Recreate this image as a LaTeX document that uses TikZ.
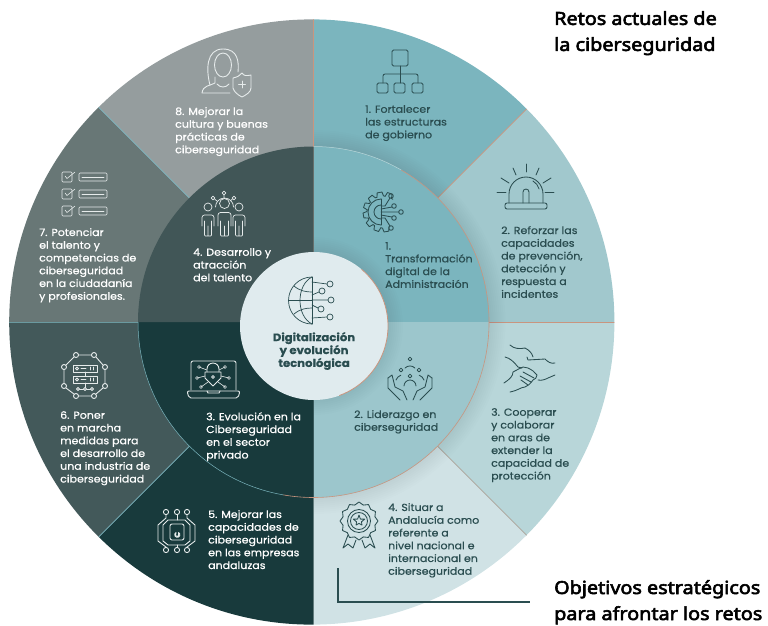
\documentclass[tikz,border=0pt]{standalone}
\usepackage{fontspec}
\setmainfont{Poppins}[FakeBold=0.6,FakeStretch=1.08]
\newfontfamily\headfont{Noto Sans}[FakeBold=3.2,FakeStretch=1.1]
\definecolor{secA}{HTML}{7BB5BE}
\definecolor{secB}{HTML}{A1C8CD}
\definecolor{secC}{HTML}{B8D6D9}
\definecolor{secD}{HTML}{D0E2E5}
\definecolor{secE}{HTML}{183A3C}
\definecolor{secF}{HTML}{43595A}
\definecolor{secG}{HTML}{687776}
\definecolor{secH}{HTML}{959D9E}
\definecolor{midA}{HTML}{7BB5BE}
\definecolor{midB}{HTML}{9CC6CC}
\definecolor{midC}{HTML}{183A3C}
\definecolor{midD}{HTML}{415657}
\definecolor{hubfill}{HTML}{E0EBEE}
\definecolor{copper}{HTML}{C9957F}
\definecolor{inkdark}{HTML}{2A4D50}
\definecolor{inklight}{HTML}{E6EBEB}
\tikzset{
  lbl/.style={anchor=north west,inner sep=0pt,align=left,yshift=-2pt,font=\fontsize{10.2}{12.75}\selectfont},
  lbld/.style={lbl,text=inkdark},
  lblw/.style={lbl,text=white},
  hub/.style={inner sep=0pt,align=center,text=inkdark,font=\fontsize{10.8}{12.9}\selectfont\bfseries},
  headtxt/.style={anchor=north west,inner sep=0pt,align=left,text=black,font=\headfont\fontsize{18}{26}\selectfont},
  icd/.style={draw=inkdark,line width=.85pt,line cap=round,line join=round},
  icw/.style={draw=inklight,line width=.9pt,line cap=round,line join=round},
}
\begin{document}
\begin{tikzpicture}[x=1pt,y=-1pt]
\useasboundingbox (0,0) rectangle (768,625);
\coordinate (ctr) at (313.5,322);
% outer ring
\begin{scope}
  \clip (311.8,322) circle (302.6);
  \foreach \a/\c in {-90/secA,-45/secB,0/secC,45/secD,90/secE,135/secF,180/secG,225/secH}
    \fill[\c] (ctr) -- +(\a:500) -- +(\a+45:500) -- cycle;
  \draw[copper,line width=.7pt] (ctr) -- +(-45:500);
  \draw[copper,line width=.7pt] (ctr) -- +(0:500);
  \draw[copper!60!secA,line width=.7pt] (ctr) -- +(45:500);
  \draw[copper,line width=.5pt] (ctr) -- +(-90:500);
  \draw[secA,line width=.7pt] (ctr) -- +(135:500);
  \draw[secA!70!secF,line width=.7pt] (ctr) -- +(180:500);
  \draw[secA,line width=.7pt] (ctr) -- +(225:500);
  % soft shadow of the middle disc
  \clip (314,100) rectangle (640,625);
  \foreach \r in {176,178,...,192}
    \fill[black,opacity=.008] (ctr) circle (\r);
\end{scope}
% middle disc
\begin{scope}
  \clip (ctr) circle (175.5);
  \foreach \a/\c in {-90/midA,0/midB,90/midC,180/midD}
    \fill[\c] (ctr) -- +(\a:400) -- +(\a+90:400) -- cycle;
  \begin{scope}
    \clip (314,200) rectangle (500,500);
    \foreach \r in {75,77,...,89}
      \fill[black,opacity=.008] (314,326) circle (\r);
  \end{scope}
\end{scope}
\draw[copper,line width=.6pt] (ctr) +(-60:175.5) arc (-60:60:175.5);
\draw[secC,line width=.5pt] (ctr) +(-90:175.5) arc (-90:-60:175.5);
\draw[copper,line width=.6pt] (ctr) +(60:175.5) arc (60:100:175.5);
\draw[secA,line width=.5pt] (ctr) +(100:175.5) arc (100:180:175.5);
% hub
\fill[hubfill] (314,326) circle (74);
\draw[copper,line width=.8pt] (314,326) +(-50:74) arc (-50:70:74);

% labels
\node[headtxt] (titleA) at (554,11) {Retos actuales de\\la ciberseguridad};
\node[headtxt] (titleB) at (554,580) {Objetivos estrat\'egicos\\para afrontar los retos};
\node[hub] (hubtxt) at (314,351) {Digitalizaci\'on\\y evoluci\'on\\tecnol\'ogica};
\node[lbld] (outA) at (365,103) {1. Fortalecer\\las estructuras\\de gobierno};
\node[lbld] (outB) at (501,224) {2. Reforzar las\\capacidades\\de prevenci\'on,\\detecci\'on y\\respuesta a\\incidentes};
\node[lbld] (outC) at (491,406) {3. Cooperar\\y colaborar\\en aras de\\extender la\\capacidad de\\protecci\'on};
\node[lbld] (outD) at (388,501) {4. Situar a\\Andaluc\'ia como\\referente a\\nivel nacional e\\internacional en\\ciberseguridad};
\node[lblw] (outE) at (208,508) {5. Mejorar las\\capacidades de\\ciberseguridad\\en las empresas\\andaluzas};
\node[lblw] (outF) at (60,409) {6. Poner\\en marcha\\medidas para\\el desarrollo de\\una industria de\\ciberseguridad};
\node[lblw] (outG) at (39,226) {7. Potenciar\\el talento y\\competencias de\\ciberseguridad\\en la ciudadan\'ia\\y profesionales.};
\node[lblw] (outH) at (175,105) {8. Mejorar la\\cultura y buenas\\pr\'acticas de\\ciberseguridad};
\node[lbld] (midAt) at (385,240) {1.\\Transformaci\'on\\digital de la\\Administraci\'on};
\node[lbld] (midBt) at (354,408) {2. Liderazgo en\\ciberseguridad};
\node[lblw] (midCt) at (206,410) {3. Evoluci\'on en la\\Ciberseguridad\\en el sector\\privado};
\node[lblw] (midDt) at (193,246) {4. Desarrollo y\\atracci\'on\\del talento};

% bracket
\coordinate (brA) at (338,568);
\coordinate (brB) at (338,602);
\coordinate (brC) at (530,602);
\draw[inkdark,line width=1.3pt] (brA) -- (brB) -- (brC);

% icon: organisation chart
\draw[icd,rounded corners=1.5pt] (392,50) rectangle (408,66);
\draw[icd] (400.5,66) -- (400.5,83);
\draw[icd,rounded corners=2pt] (383,83) -- (383,74) -- (418,74) -- (418,83);
\foreach \x in {377,394,412}
  \draw[icd,rounded corners=1.5pt] (\x,83) rectangle +(11,10);

% icon: alarm
\draw[icd,rounded corners=2pt] (505,203) rectangle (547,209);
\draw[icd] (509,203) -- (509,194) arc (180:360:17 and 17) -- (543,203);
\draw[icd] (523,203) -- (523,192) arc (180:360:3) -- (529,203);
\draw[icd] (533,181) arc (-60:-15:13);
\foreach \a/\b/\c/\d in {526/164/526/172,513/168/516/175,539/168/536/175,501/178/509/183,551/178/543/183,497/192/506/192,545/192/554/192}
  \draw[icd] (\a,\b) -- (\c,\d);

% icon: gear with circuit
\begin{scope}[shift={(383,212)}]
  \foreach \a in {80,110,...,290}
    \draw[icd] (\a-12:16) -- (\a-7:20) arc (\a-7:\a+7:20) -- (\a+12:16) arc (\a+12:\a+18:16);
\end{scope}
\begin{scope}[shift={(381,212)}]
  \draw[icd] (0,-13) arc (-90:-270:13);
  \draw[icd] (0,-7) arc (-90:-270:7);
  \draw[icd] (0,-13) -- (0,13);
\end{scope}
\foreach \x/\y in {391/196,394/206,401/212,394/218,391/228}
  \draw[icd] (\x,\y) circle (2.3);
\draw[icd] (381,206) -- (385,206) -- (390,198) (381,209) -- (392,207) (381,212) -- (399,212) (381,215) -- (392,217) (381,218) -- (385,218) -- (390,226);

% icon: hands
\draw[icd] (510,345) .. controls (514,349) and (520,349) .. (525,348) .. controls (529,350) and (532,353) .. (533,357);
\draw[icd] (527,357) -- (528,360) -- (545,359) .. controls (548,362) and (551,364) .. (555,363);
\draw[icd] (505,357) .. controls (510,358) and (514,362) .. (518,367) -- (522,368);
\draw[icd] (504,383) .. controls (510,379) and (513,376) .. (513,372) .. controls (517,370) and (520,368) .. (523,367) -- (528,368) .. controls (532,370) and (535,372) .. (537,375) .. controls (537,378) and (535,379) .. (533,380) .. controls (530,384) and (528,386) .. (525,387) .. controls (521,387) and (517,391) .. (510,392);
\draw[icd] (538,380) .. controls (542,381) and (546,379) .. (548,378) -- (555,375);
\draw[icd] (523,372) -- (534,378) (520,376) -- (531,382) (521,380) -- (528,385);

% icon: rosette
\begin{scope}[shift={(359,521)}]
  \foreach \a in {0,30,...,330}
    \draw[icd] (\a-15:16.5) -- (\a:19) -- (\a+15:16.5);
  \draw[icd] (0,0) circle (11.5);
  \draw[icd] (0,0) circle (8.5);
  \draw[icd] (-90:6) -- (-54:2.4) -- (-18:6) -- (18:2.6) -- (54:5) -- (90:2.4) -- (126:5) -- (162:2.6) -- (198:6) -- (234:2.4) -- cycle;
  \draw[icd] (-11,14) -- (-16,27) -- (-11,23) -- (-6,27) -- (-3,19);
  \draw[icd] (11,14) -- (16,27) -- (11,23) -- (6,27) -- (3,19);
\end{scope}

% icon: people in hands
\foreach \x/\y in {410/359,401/370,419/370,410/376}
  \draw[icd] (\x,\y) circle (1.9);
\draw[icd] (405,368) arc (-135:-45:7);
\draw[icd] (404,386) arc (-180:0:6);
\draw[icd] (396,380) arc (-160:-110:8) (424,380) arc (-20:-70:8);
\draw[icd] (388,378) -- (388,388) -- (400,400);
\draw[icd] (432,378) -- (432,388) -- (420,400);
\draw[icd] (388,378) -- (392,375) -- (395,387) -- (403,391) -- (407,400);
\draw[icd] (432,378) -- (428,375) -- (425,387) -- (417,391) -- (413,400);

% icon: padlock circuit
\draw[icw] (166,515) -- (166,518) -- (158,525) -- (158,541) -- (166,547);
\draw[icw] (187,515) -- (187,518) -- (195,525) -- (195,541) -- (187,547);
\draw[icw] (177,515) -- (177,520) (177,545) -- (177,547);
\draw[icw] (168,520) -- (185,520) -- (190,525) -- (190,541) -- (185,545) -- (168,545) -- (163,541) -- (163,525) -- cycle;
\foreach \x in {166,177,187}{
  \draw[icw] (\x,512) circle (2.6);
  \draw[icw] (\x,550) circle (2.6);
}
\draw[icw,rounded corners=2pt] (170,524) rectangle (184,540);
\draw[icw] (175.5,536) -- (176,532.5) arc (120:420:2.6 and -2.6) -- (178.5,536) -- cycle;

% icon: server network
\foreach \x/\y in {76/355,94/355,105/367,105/386,94/396,76/396,64/386,64/367}
  \draw[icw] (\x,\y) circle (2.5);
\draw[icw] (78.500,355) -- (91.500,355) (96,357) -- (103,365) (105,369.500) -- (105,383.500) (103,388) -- (96,394) (91.500,396) -- (78.500,396) (74,394) -- (66,388) (64,383.500) -- (64,369.500) (66,365) -- (74,357);
\draw[icw] (73,365) rectangle (97,372);
\draw[icw] (73,376) rectangle (97,383);
\draw[icw] (85,372) -- (85,376) (85,383) -- (85,388);
\foreach \y in {368.500,379.500}{
  \draw[icw] (77,\y) circle (1.5);
  \draw[icw] (81,\y) -- (86,\y) (90,\y-1.500) -- (90,\y+1.500) (93,\y-1.500) -- (93,\y+1.500);
}
\draw[icw] (78,389) -- (92,389);
\foreach \x in {78,85,92}
  \draw[icw,fill=secF] (\x,389) circle (1.5);

% icon: checklist
\foreach \y in {172,189,206}{
  \draw[icw,rounded corners=1pt,line width=.6pt] (62,\y) rectangle +(10,10);
  \draw[icw,line width=.6pt] (65,\y+4) -- (67,\y+6.500) -- (75,\y);
  \draw[icw,rounded corners=1pt,line width=.6pt] (79,\y+1) rectangle +(28,8);
  \draw[icw,line width=.6pt] (82,\y+5) -- (104,\y+5);
}

% icon: person and shield
\draw[icw] (223,65) ellipse (8.500 and 12);
\draw[icw] (210,85) .. controls (206,70) and (206,49) .. (223,49) .. controls (238,49) and (239,62) .. (238,72);
\draw[icw] (215,77) -- (215,83) .. controls (210,86) and (203,85) .. (202,93) -- (230,93);
\draw[icw] (217,84) .. controls (220,88) and (226,88) .. (229,84);
\draw[icw] (233,78) -- (233,88) .. controls (234,92) and (238,95) .. (242,97) .. controls (246,95) and (251,92) .. (251,88) -- (251,75) .. controls (246,76) and (244,76) .. (242,73) .. controls (240,76) and (237,77) .. (233,78);
\draw[icw] (242,81) -- (242,88) (238.500,84.500) -- (245.500,84.500);

% icon: team
\foreach \x/\r/\t/\w in {208/4/215/6,224.500/5/212.500/6.500,239/4/215/6}{
  \draw[icw,line width=.7pt] (\x,\t-8-\r+4) circle (\r);
  \draw[icw,line width=.7pt,rounded corners=2.5pt] (\x-\w,226) -- (\x-\w,\t) -- (\x+\w,\t) -- (\x+\w,226);
  \draw[icw,line width=.7pt,rounded corners=1pt] (\x-\w+2.500,221) -- (\x-\w+2.500,236) -- (\x+\w-2.500,236) -- (\x+\w-2.500,221) (\x,226) -- (\x,236);
}
\foreach \x/\y in {224/193,213/198,234/198}
  \draw[icw,line width=.7pt] (\x,\y) circle (1.8);
\draw[icw,line width=.7pt] (215.500,207) arc (-180:0:9);
\draw[icw,line width=.7pt] (224,195) -- (224,198) (214.500,199) -- (217,201) (232.500,199) -- (230,201);

% icon: laptop
\draw[icw,rounded corners=2pt] (191,390) -- (191,361) -- (236,361) -- (236,390);
\draw[icw,rounded corners=2pt] (187,391) -- (240,391) -- (238,398) -- (189,398) -- cycle;
\draw[icw] (207,391) -- (208,393) -- (219,393) -- (220,391);
\draw[icw] (207,372) -- (207,369) arc (180:360:6) -- (219,372);
\draw[icw] (205,372) -- (221,372) -- (221,378) -- (213,386) -- (205,378) -- cycle;
\draw[icw] (213,377) circle (1.4);
\foreach \x/\y/\p/\q in {199/367/207/370,225/367/219/370,197/378/205/376,229/378/221/376,201/387/208/382,225/387/218/382}{
  \draw[icw,line width=.6pt] (\x,\y) circle (1.5);
  \draw[icw,line width=.6pt] (\x,\y) -- (\p,\q);
}

% icon: globe and circuit
\draw[icd,line width=.7pt] (312,277) arc (-90:-270:23.500);
\draw[icd,line width=.7pt] (312,277) -- (312,324);
\draw[icd,line width=.7pt] (312,277) .. controls (296,285) and (296,316) .. (312,324);
\draw[icd,line width=.7pt] (289,300) -- (312,300);
\draw[icd,line width=.7pt] (294,286) .. controls (300,291) and (306,292) .. (312,292);
\draw[icd,line width=.7pt] (294,314) .. controls (300,309) and (306,308) .. (312,308);
\foreach \x/\y in {330/284,322/291,331/300,321/309,330/317}
  \draw[icd,line width=.7pt] (\x,\y) circle (3);
\draw[icd,line width=.7pt] (312,282) -- (327,284) (312,295) -- (319,292) (312,300) -- (328,300) (312,305) -- (318,308) (312,318) -- (327,317);
\end{tikzpicture}
\end{document}
